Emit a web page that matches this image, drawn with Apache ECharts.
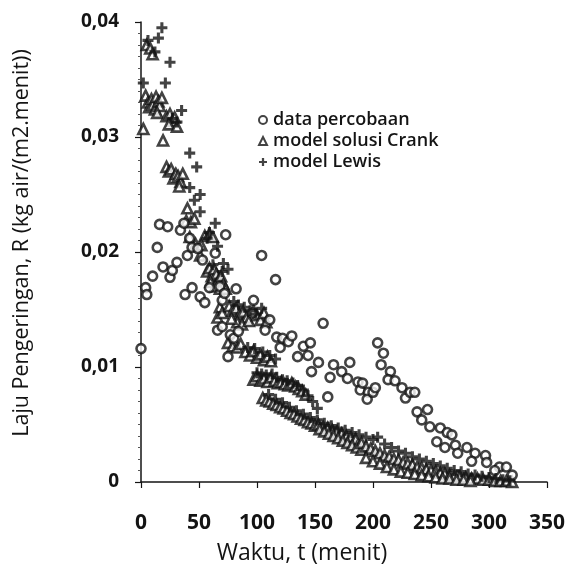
<!DOCTYPE html>
<html>
<head>
<meta charset="utf-8">
<script src="https://cdn.jsdelivr.net/npm/echarts@6/dist/echarts.min.js"></script>
<style>
html,body{margin:0;padding:0;background:#fff;}
#chart{width:570px;height:579px;}
</style>
</head>
<body>
<div id="chart"></div>
<script>
// ---- data: [t (menit), R (kg air/(m2.menit))] ----
var dataPercobaan = [
 [0,0.0116],[4,0.0169],[5,0.0163],[10,0.0179],[14,0.0204],[16,0.0224],[19,0.0187],[23,0.0222],
 [25,0.0178],[27,0.0184],[31,0.0191],[34,0.0219],[37,0.0225],[38,0.0163],[40,0.0197],[42,0.0212],
 [44,0.0169],[44,0.0204],[49,0.0203],[51,0.0161],[53,0.0193],[55,0.0156],[59,0.0169],[64,0.0199],
 [68,0.0170],[70,0.0158],[72,0.0164],[73,0.0215],[66,0.0132],[70,0.0135],[77,0.0128],[75,0.0109],
 [80,0.0125],[84,0.0131],[82,0.0168],[96,0.0147],[97,0.0158],[104,0.0197],[116,0.0176],[107,0.0132],
 [111,0.0141],[117,0.0126],[120,0.0117],[122,0.0125],[127,0.0122],[130,0.0127],[135,0.0109],[140,0.0118],
 [144,0.0110],[146,0.0121],[153,0.0104],[147,0.0096],[157,0.0138],[163,0.0091],[166,0.0102],[161,0.0074],
 [173,0.0096],[178,0.0090],[180,0.0104],[187,0.0087],[189,0.0080],[191,0.0086],[196,0.0078],[195,0.0072],
 [200,0.0078],[202,0.0082],[204,0.0121],[209,0.0112],[207,0.0102],[215,0.0096],[213,0.0089],[219,0.0088],
 [225,0.0082],[228,0.0073],[232,0.0078],[236,0.0078],[238,0.0061],[242,0.0054],[247,0.0063],[249,0.0048],
 [258,0.0047],[264,0.0043],[268,0.0041],[271,0.0032],[273,0.0025],[281,0.0030],[288,0.0025],[297,0.0023],
 [298,0.0017],[309,0.0013],[315,0.0013],[320,0.0006],[255,0.0035],[262,0.0030],[285,0.0018],[305,0.0010]
];
var modelCrank = [
 [5,0.0380],[8,0.0377],[10,0.0372],
 [2,0.0307],[4,0.0336],[6,0.0330],[7,0.0326],[9,0.0333],[10,0.0328],[12,0.0324],[13,0.0335],[15,0.0331],
 [16,0.0327],[18,0.0334],[14,0.0321],
 [22,0.0318],[25,0.0320],[27,0.0314],[29,0.0317],[24,0.0311],[31,0.0309],[19,0.0297],
 [22,0.0274],[24,0.0270],[26,0.0272],[28,0.0264],[30,0.0268],[32,0.0266],[34,0.0261],[36,0.0268],[33,0.0257],
 [40,0.0238],[39,0.0227],[43,0.0226],[46,0.0229],
 [42,0.0213],[47,0.0207],[51,0.0197],[55,0.0214],[59,0.0216],[62,0.0213],[52,0.0206],
 [57,0.0183],[59,0.0186],[61,0.0179],[63,0.0185],[65,0.0181],[67,0.0176],[69,0.0179],[71,0.0172],
 [60,0.0174],[64,0.0170],[68,0.0168],[73,0.0168],
 [68,0.0152],[66,0.0143],[70,0.0147],
 [76,0.0153],[79,0.0149],[82,0.0151],[85,0.0146],[88,0.0148],[91,0.0143],[83,0.0139],[87,0.0137],[93,0.0140],[78,0.0142],
 [97,0.0149],[100,0.0145],[103,0.0141],[106,0.0147],[108,0.0139],
 [75,0.0121],[79,0.0118],[83,0.0117],[86,0.0120],
 [90,0.0113],[94,0.0110],[97,0.0114],[100,0.0108],[103,0.0111],[106,0.0106],[109,0.0109],[112,0.0105],
 [97,0.0089],[100,0.0092],[103,0.0088],[106,0.0090],[109,0.0087],[112,0.0091],[115,0.0088],[118,0.0086],
 [121,0.0087],[124,0.0085],[127,0.0084],[130,0.0086],[133,0.0083],[136,0.0081],[139,0.0079],[142,0.0076],
 [105,0.0073],[108,0.0071],[111,0.0070],[114,0.0068],[117,0.0067],[120,0.0065],[123,0.0064],[126,0.0062],
 [129,0.0060],[132,0.0059],[135,0.0057],[138,0.0055],[141,0.0054],[144,0.0052],[147,0.0051],[150,0.0049],
 [153,0.0050],[157,0.0048],[161,0.0047],[165,0.0045],[169,0.0044],[173,0.0042],[177,0.0040],[181,0.0039],[185,0.0037],
 [154,0.0046],[158,0.0044],[162,0.0042],[166,0.0040],[170,0.0038],[174,0.0036],[178,0.0034],[182,0.0032],[186,0.0030],[190,0.0028],
 [190,0.0034],[194,0.0031],[198,0.0029],[202,0.0027],[206,0.0025],[210,0.0023],[214,0.0022],[218,0.0020],
 [222,0.0019],[226,0.0017],[230,0.0016],[234,0.0015],[238,0.0013],[242,0.0012],[246,0.0011],[250,0.0010],
 [254,0.0009],[258,0.0008],[262,0.0007],[266,0.0006],[270,0.0005],[275,0.0005],[280,0.0004],[285,0.0003],
 [290,0.0003],[295,0.0002],[300,0.0002],[305,0.0001],[310,0.0001],[315,0.0001],[320,0.0000],
 [194,0.0021],[200,0.0018],[206,0.0016],[212,0.0013],[218,0.0011],[224,0.0009],[230,0.0008],[236,0.0007],
 [242,0.0006],[248,0.0005],[254,0.0004],[260,0.0003],[266,0.0003],[272,0.0002],[278,0.0002],[284,0.0001]
];
var modelLewis = [
 [2,0.0347],[6,0.0384],[12,0.0374],[15,0.0386],[18,0.0395],[21,0.0347],[25,0.0365],
 [35,0.0323],[27,0.0316],[31,0.0313],[42,0.0286],[48,0.0274],
 [42,0.0256],[51,0.0250],[51,0.0235],[46,0.0245],
 [59,0.0217],[64,0.0225],[57,0.0212],[66,0.0205],[62,0.0189],[70,0.0183],[71,0.0190],[75,0.0185],
 [80,0.0157],[84,0.0154],[89,0.0152],[94,0.0149],[104,0.0151],[99,0.0146],
 [92,0.0117],[98,0.0116],[105,0.0113],[111,0.0110],[116,0.0107],
 [100,0.0095],[104,0.0094],[108,0.0093],[113,0.0094],[117,0.0091],[122,0.0089],[126,0.0088],[131,0.0086],
 [135,0.0084],[140,0.0080],[144,0.0075],[148,0.0070],[152,0.0064],
 [110,0.0076],[116,0.0072],[122,0.0069],[128,0.0065],[134,0.0062],[140,0.0059],[146,0.0056],[152,0.0054],
 [158,0.0051],[164,0.0049],[170,0.0047],[176,0.0045],[182,0.0043],[188,0.0041],[194,0.0039],[200,0.0037],
 [204,0.0039],[210,0.0033],[216,0.0030],[222,0.0027],[228,0.0025],[234,0.0022],[240,0.0020],[246,0.0018],
 [252,0.0016],[258,0.0014],[264,0.0012],[270,0.0010],[276,0.0009],[282,0.0007],[288,0.0006],[294,0.0005],
 [300,0.0004],[306,0.0003],[312,0.0002],[318,0.0001]
];
var xTicks = [0,50,100,150,200,250,300,350];
var yTicks = [0,0.01,0.02,0.03,0.04];
var seriesNames = ['data percobaan','model solusi Crank','model Lewis'];
var axisTitleX = 'Waktu, t (menit)';
var axisTitleY = 'Laju Pengeringan, R (kg air/(m2.menit))';

var FONT = 'Open Sans';
var INK = '#141414';
var plusPath = 'path://M3.6,0L6.4,0L6.4,3.6L10,3.6L10,6.4L6.4,6.4L6.4,10L3.6,10L3.6,6.4L0,6.4L0,3.6L3.6,3.6Z';

var chart = echarts.init(document.getElementById('chart'), null, {renderer:'canvas'});
chart.setOption({
  animation:false,
  backgroundColor:'#fff',
  grid:{left:141, right:23, top:22, bottom:97, containLabel:false},
  xAxis:{
    type:'value', min:xTicks[0], max:xTicks[xTicks.length-1], interval:50,
    axisLine:{show:true, onZero:false, lineStyle:{color:INK, width:1.5}},
    axisTick:{show:true, length:6, lineStyle:{color:INK, width:1.2}},
    splitLine:{show:false},
    axisLabel:{margin:31, fontFamily:FONT, fontSize:21, color:INK, fontWeight:700}
  },
  yAxis:{
    type:'value', min:yTicks[0], max:yTicks[yTicks.length-1], interval:0.01,
    axisLine:{show:true, onZero:false, lineStyle:{color:INK, width:1.5}},
    axisTick:{show:true, length:6, lineStyle:{color:INK, width:1.2}},
    minorTick:{show:true, splitNumber:10, length:3, lineStyle:{color:'#555', width:1}},
    splitLine:{show:false},
    axisLabel:{margin:22, fontFamily:FONT, fontSize:19, color:INK, fontWeight:700,
      formatter:function(v){ return v===0 ? '0' : v.toFixed(2).replace('.', ','); }}
  },
  legend:{
    orient:'vertical', left:253, top:106, itemGap:3, itemWidth:8, itemHeight:8,
    textStyle:{fontFamily:FONT, fontSize:18, color:INK, fontWeight:600, padding:[0,0,0,1]},
    data:seriesNames
  },
  graphic:[
    {type:'text', x:22, y:243, rotation:Math.PI/2,
     style:{text:axisTitleY, font:'500 21.5px "Open Sans"', fill:INK, textAlign:'center', textVerticalAlign:'middle'}},
    {type:'text', x:302, y:553,
     style:{text:axisTitleX, font:'500 23px "Open Sans"', fill:INK, textAlign:'center', textVerticalAlign:'middle'}}
  ],
  series:[
    {name:seriesNames[0], type:'scatter', data:dataPercobaan, symbol:'circle', symbolSize:9,
     itemStyle:{color:'#fff', borderColor:INK, borderWidth:2.6}, z:3},
    {name:seriesNames[1], type:'scatter', data:modelCrank, symbol:'triangle', symbolSize:10,
     itemStyle:{color:'#fff', borderColor:INK, borderWidth:2.6}, z:2},
    {name:seriesNames[2], type:'scatter', data:modelLewis, symbol:plusPath, symbolSize:11,
     itemStyle:{color:INK, borderWidth:0}, z:4}
  ]
});
</script>
</body>
</html>
